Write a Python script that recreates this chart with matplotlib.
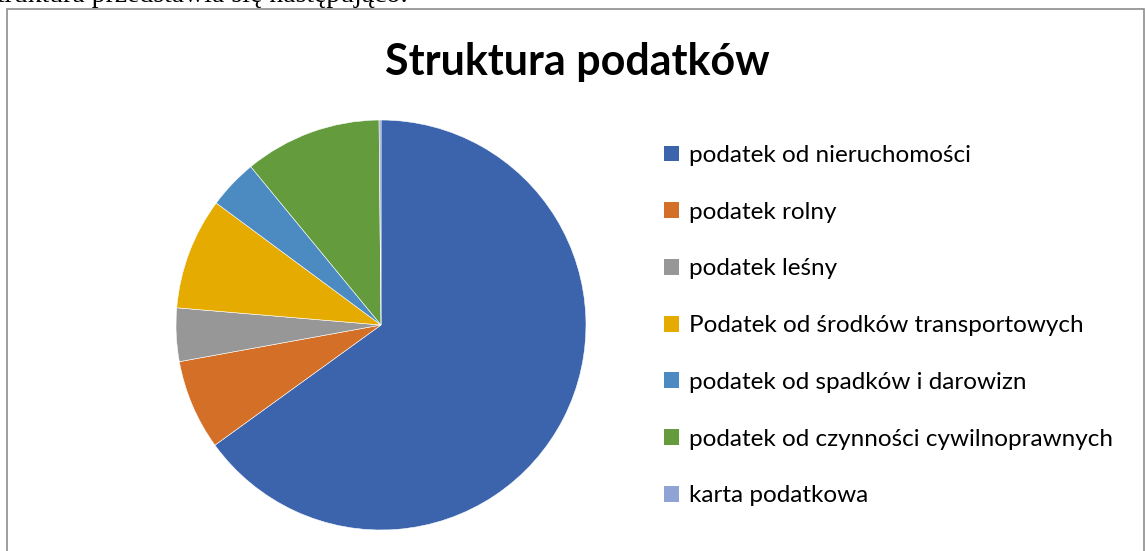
import matplotlib.pyplot as plt
from matplotlib.patches import Rectangle, Patch

# udzial poszczegolnych podatkow
labels = [
    "podatek od nieruchomości",
    "podatek rolny",
    "podatek leśny",
    "Podatek od środków transportowych",
    "podatek od spadków i darowizn",
    "podatek od czynności cywilnoprawnych",
    "karta podatkowa",
]
shares = [65.0, 7.1, 4.2, 8.8, 3.9, 10.8, 0.15]
colors = ["#3B64AD", "#D46F28", "#979797", "#E5AB00", "#4B8BC2", "#639B3D", "#8FA3D4"]

W, H = 1145, 551
fig = plt.figure(figsize=(W / 100, H / 100), dpi=100)

# ramka wykresu w dokumencie
fig.patches.append(Rectangle((7 / W, -0.01), (W - 8) / W, (H - 9) / H + 0.01,
                             transform=fig.transFigure, fill=False,
                             edgecolor="#8c8c8c", linewidth=1.2))

# ucięty tekst dokumentu nad wykresem
fig.text(-3 / W, 1 - 2 / H, "truktura przedstawia się następująco:",
         family="Liberation Serif", fontsize=20, va="baseline", ha="left")

fig.text(577 / W, 1 - 62 / H, "Struktura podatków", family="Lato",
         fontweight="bold", fontsize=31, ha="center", va="center")

ax = fig.add_axes([176 / W, (H - 530) / H, 410 / W, 410 / H])
ax.pie(shares, colors=colors, startangle=90, counterclock=False,
       wedgeprops=dict(linewidth=0.4, edgecolor="white"))
ax.set_xlim(-1, 1)
ax.set_ylim(-1, 1)
ax.set_aspect("equal")
ax.axis("off")

handles = [Patch(facecolor=c) for c in colors]
fig.legend(handles, labels, loc="upper left", bbox_to_anchor=(664 / W, 1 - 145 / H),
           frameon=False, prop=dict(family="Lato", size=17.5),
           handlelength=0.62, handleheight=0.62, handletextpad=0.4,
           labelspacing=1.47, borderaxespad=0, borderpad=0)

fig.savefig("out.png", dpi=100)
